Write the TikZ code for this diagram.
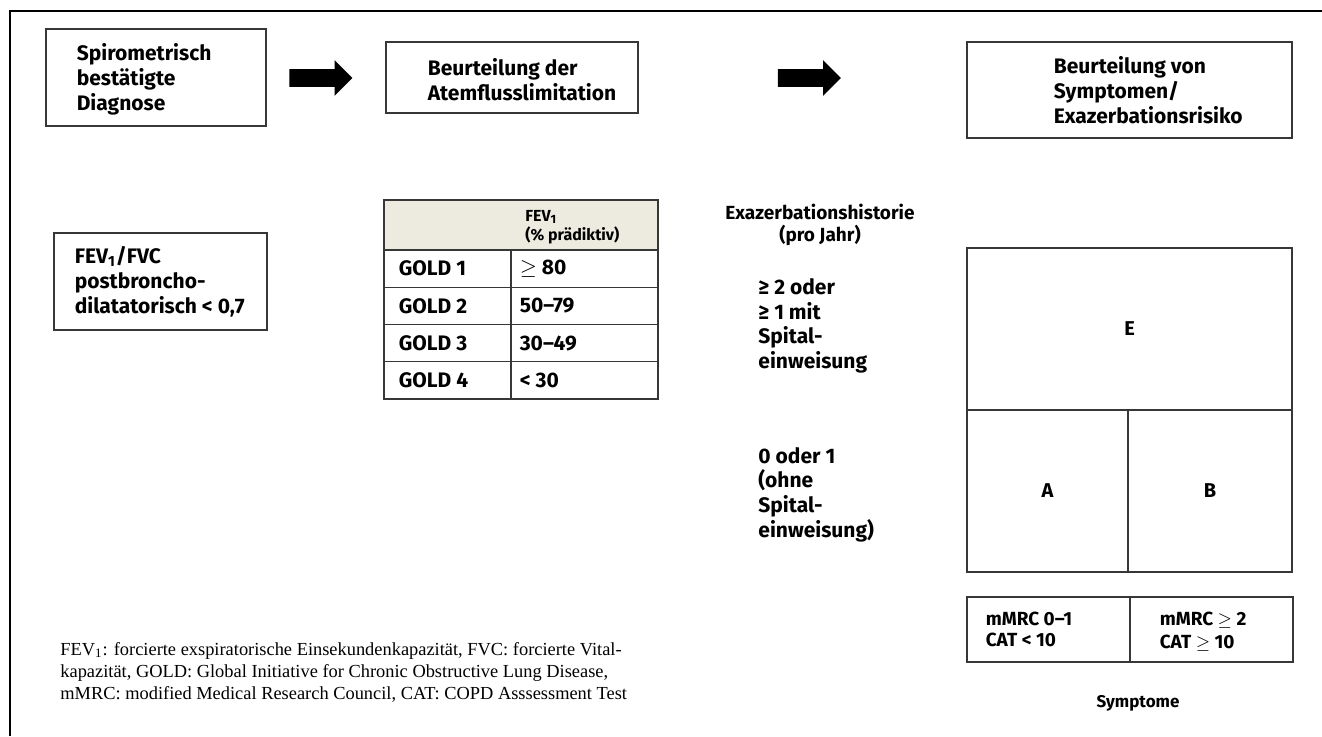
\documentclass[tikz,border=0pt]{standalone}
\usepackage{fontspec}
\setsansfont{Fira Sans}
\newfontfamily\footfont{Liberation Serif}
\usepackage{tikz}
\usetikzlibrary{shapes.arrows, positioning, calc}
\definecolor{lineGray}{RGB}{55,55,55}
\definecolor{headFill}{RGB}{237,234,224}
\newcommand{\fevsub}{\textsubscript{1}}

\begin{document}
\begin{tikzpicture}[
    x=0.5pt, y=-0.5pt,
    % empty frame of a box (text is placed on top)
    boxN/.style={
        rectangle, draw=lineGray, line width=0.6pt,
        inner sep=0pt
    },
    % bold sans text, left aligned
    txtN/.style={
        font=\sffamily\bfseries\fontsize{10.5}{12.5}\selectfont,
        align=left, inner sep=0pt, anchor=west
    },
    % table cell
    cellN/.style={
        rectangle, draw=lineGray, line width=0.6pt,
        inner sep=0pt, minimum height=18.6pt
    },
    % thick black block arrow
    blockArr/.style={
        single arrow, fill=black, draw=none,
        inner xsep=0pt, inner ysep=4.25pt,
        minimum height=31.5pt, single arrow head extend=4.5pt
    }
]
\useasboundingbox (0,0) rectangle (1322,736);
% frame
\draw[line width=0.7pt] (10,736) -- (10,11) -- (1322,11);
% ── top row ────────────────────────────────────────────────
\node[boxN, minimum width=110pt, minimum height=48.5pt] (diag) at (156,77.5) {};
\node[txtN] (diagT) at ([xshift=15.5pt,yshift=-1pt]diag.west)
    {Spirometrisch\\bestätigte\\Diagnose};
\node[blockArr] (arr1) at (316.5,78) {};
\node[boxN, minimum width=126pt, minimum height=35.5pt] (flow) at (512,77.5) {};
\node[txtN] (flowT) at ([xshift=21pt,yshift=-1pt]flow.west)
    {Beurteilung der\\Atemflusslimitation};
\node[blockArr] (arr2) at (805,78) {};
\node[boxN, minimum width=162.5pt, minimum height=48pt] (risk) at (1129.5,90) {};
\node[txtN] (riskT) at ([xshift=43.5pt]risk.west)
    {Beurteilung von\\Symptomen/\\Exazerbationsrisiko};
% ── diagnosis criterion ────────────────────────────────────
\node[boxN, minimum width=106.5pt, minimum height=48.5pt] (ratio) at (160.5,281.5) {};
\node[txtN] (ratioT) at ([xshift=10.5pt]ratio.west)
    {FEV\fevsub/FVC\\postbroncho-\\dilatatorisch < 0,7};
% ── GOLD table ─────────────────────────────────────────────
\node[cellN, fill=headFill, minimum width=137pt, minimum height=25pt] (head) at (521,225) {};
\node[txtN, font=\sffamily\bfseries\fontsize{8}{9.5}\selectfont] (headT) at (525,227)
    {FEV\fevsub\\(\% prädiktiv)};
\foreach \v [count=\i] in {{$\geq$ 80},50--79,30--49,{< 30}} {
    \node[cellN, minimum width=63.5pt] (g\i) at (447.5,{268.6+(\i-1)*37.25}) {};
    \node[cellN, minimum width=73.5pt] (v\i) at (584.5,{268.6+(\i-1)*37.25}) {};
    \node[txtN] at ([xshift=7.5pt]g\i.west) {GOLD \i};
    \node[txtN] at ([xshift=4.5pt]v\i.west) {\v};
}
% ── exacerbation history ───────────────────────────────────
\node[txtN, anchor=center, align=center, font=\sffamily\bfseries\fontsize{9.5}{11}\selectfont]
    (exH) at (820,225) {Exazerbationshistorie\\(pro Jahr)};
\node[txtN, font=\sffamily\bfseries\fontsize{10.5}{12.3}\selectfont] (hiT) at (758,326)
    {≥ 2 oder\\≥ 1 mit\\Spital-\\einweisung};
\node[txtN, font=\sffamily\bfseries\fontsize{10.5}{12.3}\selectfont] (loT) at (758,494.5)
    {0 oder 1\\(ohne\\Spital-\\einweisung)};
% ── ABE grid ───────────────────────────────────────────────
\node[boxN, minimum width=162.5pt, minimum height=81pt, font=\sffamily\bfseries] (cE) at (1129.5,329) {E};
\node[boxN, minimum width=80.5pt, minimum height=81pt, font=\sffamily\bfseries] (cA) at (1047.5,491) {A};
\node[boxN, minimum width=82pt, minimum height=81pt, font=\sffamily\bfseries] (cB) at (1210,491) {B};
% ── symptom table ──────────────────────────────────────────
\node[boxN, minimum width=81.5pt, minimum height=32.5pt] (sL) at (1048.5,629.5) {};
\node[boxN, minimum width=81.5pt, minimum height=32.5pt] (sR) at (1211.5,629.5) {};
\node[txtN, font=\sffamily\bfseries\fontsize{9.5}{10.5}\selectfont] at ([xshift=9.5pt]sL.west)
    {mMRC 0--1\\CAT < 10};
\node[txtN, font=\sffamily\bfseries\fontsize{9.5}{11.5}\selectfont] at ([xshift=15pt,yshift=-1pt]sR.west)
    {mMRC $\geq$ 2\\CAT $\geq$ 10};
\node[txtN, anchor=center, font=\sffamily\bfseries\fontsize{8.5}{10}\selectfont] (symT) at (1138,703) {Symptome};
% ── footnote ───────────────────────────────────────────────
\node[anchor=west, align=left, inner sep=0pt, font=\footfont\fontsize{9.2}{11}\selectfont] (foot) at (60,672)
    {FEV\fevsub: forcierte exspiratorische Einsekundenkapazität, FVC: forcierte Vital-\\
     kapazität, GOLD: Global Initiative for Chronic Obstructive Lung Disease,\\
     mMRC: modified Medical Research Council, CAT: COPD Asssessment Test};
\end{tikzpicture}
\end{document}
